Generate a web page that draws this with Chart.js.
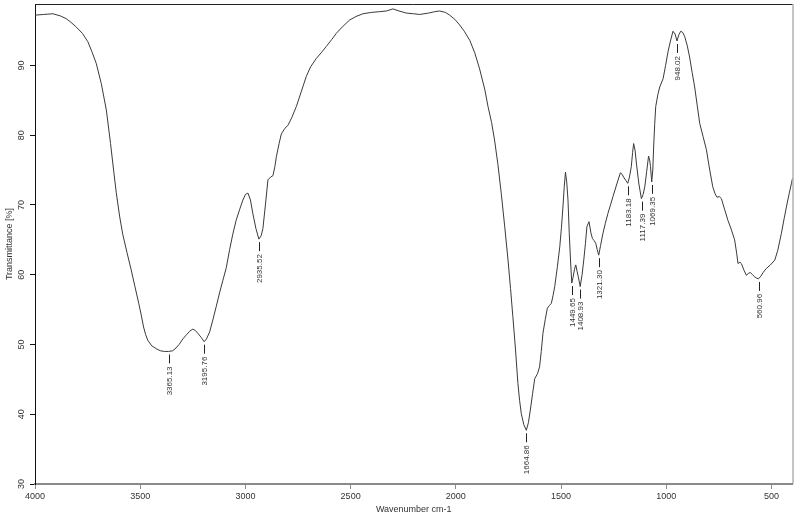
<!DOCTYPE html>
<html>
<head>
<meta charset="utf-8">
<script src="https://cdn.jsdelivr.net/npm/chart.js@4.4.1/dist/chart.umd.min.js"></script>
<style>
  body { margin: 0; background: #fff; }
  #wrap { width: 800px; height: 517px; }
</style>
</head>
<body>
<div id="wrap"><canvas id="myChart"></canvas></div>
<script>
// IR spectrum
const wavenumbers = [
  4000, 3960, 3915, 3880, 3852, 3830, 3804, 3775, 3749, 3730, 3709, 3685, 3661, 3641, 3625, 3614,
  3598, 3583, 3563, 3543, 3525, 3507, 3495, 3484, 3474, 3464, 3445, 3424, 3405, 3385, 3365, 3345, 3330,
  3315, 3297, 3280, 3265, 3250, 3238, 3226, 3210, 3196, 3185, 3170, 3155, 3139, 3122, 3107, 3091,
  3075, 3060, 3044, 3028, 3012, 3000, 2988, 2976, 2965, 2950, 2936, 2925, 2917, 2905, 2893, 2880,
  2869, 2860, 2853, 2840, 2829, 2812, 2798, 2780, 2758, 2735, 2711, 2690, 2663, 2640, 2616, 2590,
  2568, 2540, 2505, 2475, 2442, 2400, 2362, 2330, 2299, 2270, 2235, 2200, 2172, 2130, 2100, 2077,
  2050, 2029, 2005, 1982, 1960, 1934, 1910, 1887, 1862, 1847, 1830, 1816, 1800, 1784, 1768, 1752,
  1740, 1729, 1717, 1705, 1697, 1689, 1677, 1665, 1655, 1646, 1635, 1625, 1612, 1602, 1594, 1586,
  1575, 1565, 1555, 1546, 1538, 1530, 1518, 1506, 1498, 1491, 1485, 1479, 1473, 1467, 1461, 1455,
  1449, 1443, 1436, 1430, 1424, 1418, 1409, 1400, 1392, 1384, 1377, 1367, 1358, 1351, 1343, 1335,
  1328, 1321, 1312, 1301, 1290, 1277, 1265, 1253, 1235, 1218, 1210, 1203, 1192, 1183, 1175, 1166,
  1160, 1155, 1148, 1142, 1130, 1118, 1110, 1102, 1093, 1084, 1078, 1075, 1069, 1064, 1060, 1055,
  1050, 1040, 1031, 1015, 1003, 992, 980, 968, 958, 949, 940, 931, 921, 912, 900, 889,
  877, 865, 853, 841, 825, 809, 795, 779, 768, 759, 748, 738, 722, 707, 690, 675,
  665, 659, 650, 643, 630, 619, 610, 600, 590, 580, 570, 562, 550, 540, 524, 505,
  484, 470, 453, 440, 429, 416, 405, 400
];
const transmittance = [
  97.2, 97.3, 97.4, 97.1, 96.7, 96.2, 95.5, 94.6, 93.4, 92.0, 90.3, 87.4, 83.6, 78.8, 74.6, 71.8,
  68.4, 65.8, 63.2, 60.7, 58.3, 55.9, 54.2, 52.5, 51.4, 50.6, 49.8, 49.4, 49.1, 49.0, 49.0, 49.1, 49.5,
  50.0, 50.8, 51.4, 51.9, 52.2, 52.0, 51.6, 51.0, 50.4, 50.8, 51.8, 53.5, 55.4, 57.5, 59.2, 61.0,
  63.6, 65.8, 67.8, 69.3, 70.7, 71.5, 71.7, 70.7, 68.8, 66.6, 65.1, 65.6, 66.6, 70.0, 73.6, 74.0,
  74.2, 75.5, 76.9, 78.8, 80.2, 81.0, 81.4, 82.5, 84.1, 86.2, 88.4, 89.8, 91.0, 91.8, 92.7, 93.7,
  94.6, 95.5, 96.5, 97.0, 97.4, 97.6, 97.7, 97.8, 98.1, 97.8, 97.5, 97.4, 97.3, 97.5, 97.7, 97.8,
  97.6, 97.2, 96.6, 95.8, 94.9, 93.6, 91.8, 89.5, 86.5, 84.1, 81.8, 79.3, 75.8, 71.6, 67.0, 62.1,
  58.0, 54.0, 49.5, 44.4, 42.0, 40.1, 38.5, 37.7, 38.8, 40.6, 43.0, 45.1, 45.8, 46.8, 49.0, 51.6,
  53.6, 55.2, 55.6, 55.9, 57.0, 58.3, 61.0, 64.0, 66.8, 69.7, 72.5, 74.7, 73.3, 70.7, 66.0, 62.1,
  58.8, 59.6, 60.8, 61.4, 60.5, 59.7, 58.3, 60.0, 62.1, 64.5, 66.9, 67.6, 66.0, 65.2, 64.9, 64.5,
  63.6, 62.8, 64.2, 65.9, 67.3, 68.8, 70.0, 71.2, 73.0, 74.6, 74.4, 74.0, 73.5, 73.1, 74.0, 75.5,
  77.5, 78.8, 77.8, 76.0, 73.0, 70.9, 71.5, 72.6, 74.8, 77.0, 76.3, 75.5, 73.3, 75.0, 78.3, 81.5,
  84.1, 85.8, 86.9, 88.1, 90.0, 91.9, 93.5, 94.9, 94.5, 93.5, 94.4, 94.9, 94.7, 94.1, 92.8, 91.2,
  89.0, 86.9, 84.3, 81.7, 79.8, 77.9, 75.3, 72.6, 71.6, 71.1, 71.2, 70.9, 69.3, 67.8, 66.4, 65.0,
  63.0, 61.6, 61.8, 61.6, 60.6, 59.9, 60.2, 60.3, 60.0, 59.7, 59.5, 59.4, 59.8, 60.3, 60.9, 61.4,
  62.1, 63.5, 65.9, 68.0, 69.7, 71.6, 73.1, 73.8
];

// labelled minima
const peakWavenumbers = [3365.13, 3195.76, 2935.52, 1664.86, 1449.65, 1408.93, 1321.30, 1183.18, 1117.39, 1069.35, 948.02, 560.96];
const peakTransmittance = [49.0, 50.4, 65.1, 37.7, 58.8, 58.3, 62.8, 73.1, 70.9, 73.3, 93.5, 59.4];

// axis ticks
const xTicks = [4000, 3500, 3000, 2500, 2000, 1500, 1000, 500];
const yTicks = [30, 40, 50, 60, 70, 80, 90];

const points = wavenumbers.map((wn, i) => ({ x: wn, y: transmittance[i] }));

const fontFamily = '"Liberation Sans", Arial, sans-serif';

// top and right edges of the plot box
const frameBox = {
  id: 'frameBox',
  afterDraw(chart) {
    const { ctx, chartArea } = chart;
    ctx.save();
    ctx.lineWidth = 1;
    ctx.strokeStyle = '#222';
    ctx.beginPath();
    ctx.moveTo(chartArea.left, chartArea.top + 0.5);
    ctx.lineTo(chartArea.right, chartArea.top + 0.5);
    ctx.stroke();
    ctx.strokeStyle = '#8a8a8a';
    ctx.beginPath();
    ctx.moveTo(chartArea.right + 0.5, chartArea.top);
    ctx.lineTo(chartArea.right + 0.5, chartArea.bottom);
    ctx.stroke();
    ctx.restore();
  },
};

// peak picking marks with rotated numbers
const peakLabels = {
  id: 'peakLabels',
  afterDatasetsDraw(chart) {
    const { ctx } = chart;
    const xScale = chart.scales.x;
    const yScale = chart.scales.y;
    ctx.save();
    ctx.strokeStyle = '#222';
    ctx.fillStyle = '#333';
    ctx.lineWidth = 1;
    ctx.font = '8px ' + fontFamily;
    for (let i = 0; i < peakWavenumbers.length; i++) {
      const px = Math.round(xScale.getPixelForValue(peakWavenumbers[i])) + 0.5;
      const py = yScale.getPixelForValue(peakTransmittance[i]);
      ctx.beginPath();
      ctx.moveTo(px, py + 3);
      ctx.lineTo(px, py + 12);
      ctx.stroke();
      ctx.save();
      ctx.translate(px, py + 15);
      ctx.rotate(-Math.PI / 2);
      ctx.textAlign = 'right';
      ctx.textBaseline = 'middle';
      ctx.fillText(peakWavenumbers[i].toFixed(2), 0, 0);
      ctx.restore();
    }
    ctx.restore();
  },
};

const config = {
  type: 'line',
  data: {
    datasets: [
      {
        label: 'Transmittance',
        data: points,
        borderColor: '#3a3a3a',
        borderWidth: 1,
        pointRadius: 0,
        tension: 0,
        fill: false,
      },
    ],
  },
  options: {
    responsive: true,
    maintainAspectRatio: false,
    animation: false,
    layout: { padding: { top: 4, right: 7.5, left: 0, bottom: 0 } },
    plugins: {
      legend: { display: false },
      tooltip: { enabled: false },
    },
    scales: {
      x: {
        type: 'linear',
        reverse: true,
        min: 400,
        max: 4000,
        afterBuildTicks: (scale) => { scale.ticks = xTicks.map((v) => ({ value: v })); },
        afterFit: (scale) => {
          scale.height = 33;
          scale.paddingLeft = 0;
          scale.paddingRight = 0;
        },
        ticks: {
          maxRotation: 0,
          autoSkip: false,
          padding: 2,
          color: '#333',
          font: { family: fontFamily, size: 9 },
          callback: (value) => String(value),
        },
        grid: { drawOnChartArea: false, drawTicks: true, tickLength: 5, color: '#8a8a8a' },
        border: { color: '#8a8a8a', width: 2 },
        title: {
          display: true,
          text: 'Wavenumber cm-1',
          color: '#333',
          padding: { top: 0, bottom: 2 },
          font: { family: fontFamily, size: 9 },
        },
      },
      y: {
        min: 30,
        max: 98.8,
        afterBuildTicks: (scale) => { scale.ticks = yTicks.map((v) => ({ value: v })); },
        afterFit: (scale) => {
          scale.width = 35;
          scale.paddingTop = 0;
          scale.paddingBottom = 0;
        },
        ticks: {
          minRotation: 90,
          maxRotation: 90,
          autoSkip: false,
          crossAlign: 'center',
          padding: 3,
          color: '#333',
          font: { family: fontFamily, size: 9 },
          callback: (value) => String(value),
        },
        grid: { drawOnChartArea: false, drawTicks: true, tickLength: 5, color: '#111' },
        border: { color: '#111', width: 1 },
        title: {
          display: true,
          text: 'Transmittance [%]',
          color: '#333',
          padding: { top: 4, bottom: 0 },
          font: { family: fontFamily, size: 9 },
        },
      },
    },
  },
  plugins: [frameBox, peakLabels],
};

const myChart = new Chart(document.getElementById('myChart'), config);
</script>
</body>
</html>
